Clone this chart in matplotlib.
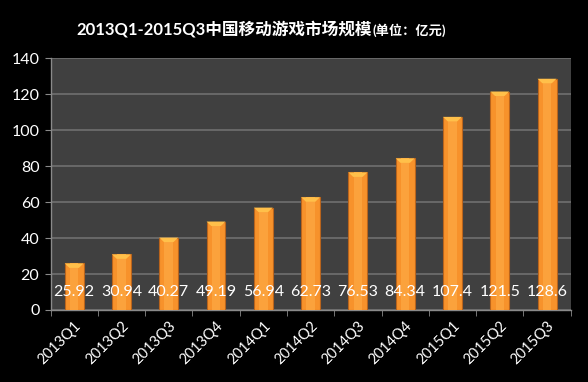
import matplotlib.pyplot as plt
import numpy as np

quarters = ["2013Q1", "2013Q2", "2013Q3", "2013Q4", "2014Q1", "2014Q2",
            "2014Q3", "2014Q4", "2015Q1", "2015Q2", "2015Q3"]
values = [25.92, 30.94, 40.27, 49.19, 56.94, 62.73, 76.53, 84.34, 107.4, 121.5, 128.6]
value_labels = ["25.92", "30.94", "40.27", "49.19", "56.94", "62.73",
                "76.53", "84.34", "107.4", "121.5", "128.6"]
yticks = [0, 20, 40, 60, 80, 100, 120, 140]

plt.rcParams["font.family"] = ["Lato", "Noto Sans CJK SC", "DejaVu Sans"]

fig = plt.figure(figsize=(5.88, 3.82), dpi=100, facecolor="black")
ax = fig.add_axes([0.0859, 0.1885, 0.8847, 0.659])
ax.set_facecolor("#404040")

x = np.arange(len(quarters))
bars = ax.bar(x, values, width=0.4, color="#F7922B", edgecolor="#B9641C",
              linewidth=0.8, zorder=3)

# lighter strip down the middle of each bar + bevelled top
for b in bars:
    bx, bw, bh = b.get_x(), b.get_width(), b.get_height()
    ax.bar(bx + bw / 2, bh, width=bw * 0.45, color="#FBA23C", linewidth=0, zorder=3.5)
    ax.fill([bx, bx + bw, bx + bw * 0.75, bx + bw * 0.25],
            [bh, bh, bh - 2.5, bh - 2.5], color="#FFC04A", zorder=4, linewidth=0)

for xi, lab in zip(x, value_labels):
    ax.text(xi, 10, lab, color="white", ha="center", va="center", fontsize=11.5, zorder=5)

ax.set_xlim(-0.5, len(quarters) - 0.5)
ax.set_ylim(0, 140)
ax.set_yticks(yticks)
ax.set_yticklabels([str(v) for v in yticks], color="white", fontsize=11.5)
ax.yaxis.grid(True, color="#707070", linewidth=1.2, zorder=1)
ax.set_axisbelow(True)

ax.set_xticks(x)
ax.set_xticklabels(quarters, rotation=45, ha="right", rotation_mode="anchor",
                   color="white", fontsize=10.5)
ax.set_xticks(np.arange(-0.5, len(quarters), 1), minor=True)
ax.tick_params(axis="x", which="major", length=0, pad=6)
ax.tick_params(axis="x", which="minor", length=4, color="#8a8a8a", direction="out")
ax.tick_params(axis="y", length=4, color="#8a8a8a", pad=4)

for s in ["top", "right"]:
    ax.spines[s].set_visible(False)
for s in ["left", "bottom"]:
    ax.spines[s].set_color("#8a8a8a")
    ax.spines[s].set_linewidth(1)

fig.text(0.633, 0.925, "2013Q1-2015Q3中国移动游戏市场规模", color="white",
         fontsize=12, fontweight="bold", ha="right", va="center",
         family=["Lato", "Noto Sans CJK SC"])
fig.text(0.633, 0.922, "(单位：亿元)", color="white", fontsize=9.5,
         fontweight="bold", ha="left", va="center",
         family=["Lato", "Noto Sans CJK SC"])

fig.savefig("out.png", dpi=100, facecolor="black")
